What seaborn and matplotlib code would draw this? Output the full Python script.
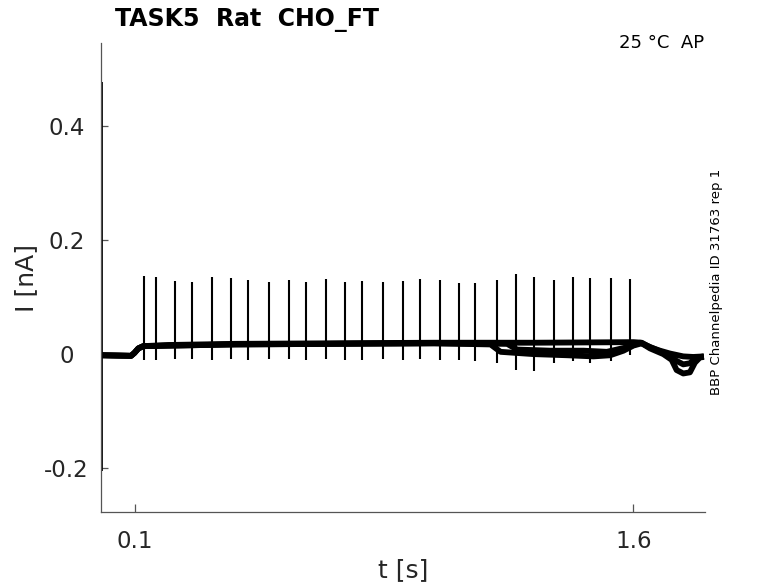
import matplotlib
matplotlib.use('Agg')
import matplotlib.pyplot as plt
import seaborn as sns
import numpy as np
import pandas as pd

# baseline of the three sweeps (t in s, I in nA)
sweep_a_t = [0.0, 0.088, 0.098, 0.110, 0.125, 0.20, 0.40, 0.70, 1.00, 1.30,
             1.60, 1.625, 1.65, 1.68, 1.71, 1.75, 1.78, 1.812]
sweep_a_i = [-0.002, -0.003, 0.002, 0.010, 0.014, 0.016, 0.018, 0.019, 0.020, 0.020,
             0.021, 0.020, 0.012, 0.006, 0.001, -0.004, -0.005, -0.004]

sweep_b_t = [0.0, 0.088, 0.098, 0.110, 0.125, 0.40, 1.00, 1.17, 1.20, 1.30,
             1.40, 1.48, 1.53, 1.57, 1.60, 1.625, 1.65, 1.69, 1.715, 1.73,
             1.75, 1.77, 1.785, 1.80, 1.812]
sweep_b_i = [-0.002, -0.003, 0.002, 0.010, 0.014, 0.017, 0.019, 0.017, 0.004, 0.000,
             -0.002, -0.004, -0.002, 0.006, 0.015, 0.019, 0.010, 0.000, -0.010, -0.028,
             -0.034, -0.032, -0.015, -0.006, -0.005]

sweep_c_t = [0.0, 0.088, 0.098, 0.110, 0.125, 0.40, 1.00, 1.22, 1.25, 1.35,
             1.45, 1.52, 1.58, 1.62, 1.66, 1.70, 1.73, 1.75, 1.77, 1.79, 1.812]
sweep_c_i = [-0.002, -0.003, 0.002, 0.010, 0.014, 0.017, 0.019, 0.018, 0.008, 0.006,
             0.006, 0.004, 0.012, 0.020, 0.010, 0.000, -0.012, -0.018, -0.016, -0.006, -0.004]

# action currents
spike_t = [0.127, 0.162, 0.219, 0.270, 0.331, 0.388, 0.439, 0.503, 0.562, 0.614,
           0.674, 0.731, 0.782, 0.846, 0.906, 0.957, 1.017, 1.074, 1.124, 1.188,
           1.248, 1.300, 1.360, 1.417, 1.468, 1.531, 1.590]
spike_peak = [0.137, 0.135, 0.129, 0.127, 0.135, 0.133, 0.130, 0.127, 0.130, 0.127,
              0.132, 0.127, 0.129, 0.127, 0.129, 0.132, 0.131, 0.125, 0.125, 0.130,
              0.140, 0.135, 0.130, 0.135, 0.133, 0.133, 0.132]
spike_trough = [-0.010, -0.010, -0.008, -0.008, -0.010, -0.008, -0.010, -0.008, -0.008, -0.010,
                -0.008, -0.010, -0.010, -0.008, -0.010, -0.008, -0.010, -0.010, -0.012, -0.015,
                -0.028, -0.030, -0.015, -0.012, -0.015, -0.012, -0.002]

# capacitive transient at start
transient_t = 0.0015
transient_lo = -0.205
transient_hi = 0.478

yticks = [-0.2, 0, 0.2, 0.4]
ytick_labels = ["-0.2", "0", "0.2", "0.4"]
xticks = [0.1, 1.6]
xtick_labels = ["0.1", "1.6"]

sns.set_theme(style="white")
plt.rcParams['font.family'] = ['DejaVu Sans']

fig = plt.figure(figsize=(7.78, 5.83), dpi=100)
ax = fig.add_axes([0.130, 0.122, 0.776, 0.804])

sweeps = [(sweep_a_t, sweep_a_i), (sweep_b_t, sweep_b_i), (sweep_c_t, sweep_c_i)]
for t, i in sweeps:
    df = pd.DataFrame({"t": t, "I": i})
    sns.lineplot(data=df, x="t", y="I", ax=ax, color="black", lw=4.2,
                 sort=False, estimator=None, solid_capstyle="butt")

ax.vlines(spike_t, spike_trough, spike_peak, color="black", lw=1.5)
ax.vlines([transient_t], [transient_lo], [transient_hi], color="black", lw=1.3)

ax.set_xlim(-0.002, 1.815)
ax.set_ylim(-0.277, 0.546)
ax.set_xticks(xticks)
ax.set_xticklabels(xtick_labels)
ax.set_yticks(yticks)
ax.set_yticklabels(ytick_labels, ha="center")

sns.despine(ax=ax)
for s in ["left", "bottom"]:
    ax.spines[s].set_color("#555555")
    ax.spines[s].set_linewidth(0.9)
ax.tick_params(axis="both", direction="in", colors="#555555", labelcolor="#262626",
               labelsize=16.5, width=0.9, bottom=True, left=True)
ax.tick_params(axis="y", length=5, pad=25)
ax.tick_params(axis="x", length=6, pad=13)

ax.set_xlabel("t [s]", fontsize=18, color="#262626", labelpad=4)
ax.set_ylabel("I [nA]", fontsize=18, color="#262626", labelpad=4)

fig.text(0.148, 0.955, "TASK5  Rat  CHO_FT", fontsize=17, fontweight="bold",
         color="black", ha="left", va="baseline")
fig.text(0.905, 0.918, "25 °C  AP", fontsize=13, color="black",
         ha="right", va="baseline")
fig.text(0.921, 0.3225, "BBP Channelpedia ID 31763 rep 1", fontsize=9.5,
         color="black", rotation=90, ha="center", va="bottom")

fig.savefig("out.png", dpi=100)
